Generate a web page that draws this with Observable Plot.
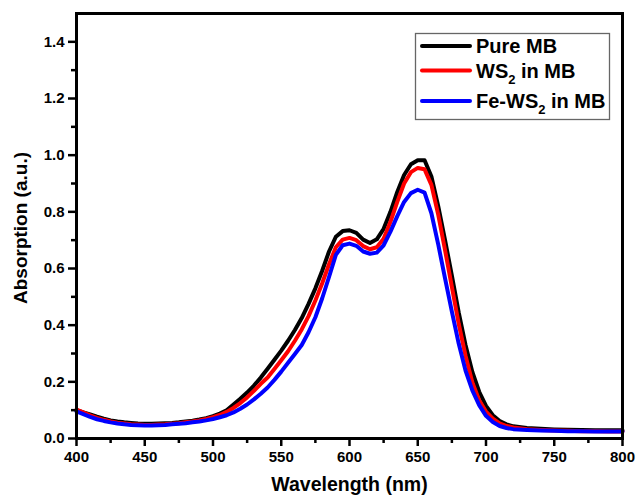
<!DOCTYPE html>
<html>
<head>
<meta charset="utf-8">
<script src="https://cdn.jsdelivr.net/npm/d3@7"></script>
<script src="https://cdn.jsdelivr.net/npm/@observablehq/plot@0.6"></script>
<style>
  html, body { margin: 0; padding: 0; background: #fff; }
</style>
</head>
<body>
<div id="chart"></div>
<script>
// Wavelength (nm)
const wavelength = [
  400,405,410,415,420,425,430,435,440,445,450,455,460,465,470,475,480,485,490,495,
  500,505,510,515,520,525,530,535,540,545,550,555,560,565,570,575,580,585,590,595,
  600,605,610,615,620,625,630,635,640,645,650,655,660,665,670,675,680,685,690,695,
  700,705,710,715,720,730,740,750,760,770,780,790,800
];
// Pure MB
const pureMB = [
  0.100,0.092,0.085,0.077,0.070,0.064,0.060,0.057,0.055,0.053,0.052,0.052,0.053,0.054,0.055,0.057,0.060,0.063,0.067,0.072,
  0.079,0.088,0.100,0.120,0.140,0.162,0.187,0.215,0.246,0.278,0.310,0.345,0.383,0.425,0.475,0.530,0.592,0.660,0.712,0.732,
  0.735,0.726,0.702,0.690,0.703,0.740,0.800,0.870,0.930,0.968,0.982,0.982,0.925,0.820,0.700,0.575,0.445,0.330,0.235,0.165,
  0.115,0.082,0.062,0.050,0.043,0.037,0.034,0.032,0.031,0.030,0.029,0.029,0.029
];
// WS2 in MB
const ws2MB = [
  0.102,0.092,0.082,0.073,0.066,0.060,0.056,0.053,0.050,0.049,0.048,0.048,0.049,0.050,0.052,0.054,0.057,0.060,0.064,0.069,
  0.075,0.083,0.094,0.108,0.125,0.145,0.168,0.193,0.215,0.245,0.276,0.308,0.345,0.385,0.432,0.487,0.548,0.615,0.675,0.702,
  0.708,0.700,0.679,0.668,0.675,0.705,0.765,0.835,0.900,0.940,0.955,0.950,0.895,0.790,0.665,0.535,0.405,0.292,0.198,0.135,
  0.095,0.070,0.053,0.044,0.039,0.033,0.030,0.028,0.027,0.026,0.026,0.025,0.025
];
// Fe-WS2 in MB
const feWs2MB = [
  0.096,0.086,0.076,0.068,0.062,0.057,0.053,0.050,0.048,0.047,0.046,0.046,0.047,0.048,0.050,0.052,0.054,0.057,0.060,0.064,
  0.069,0.075,0.082,0.092,0.105,0.120,0.138,0.158,0.180,0.207,0.236,0.267,0.298,0.330,0.375,0.428,0.495,0.570,0.648,0.682,
  0.688,0.680,0.660,0.652,0.656,0.682,0.730,0.785,0.835,0.866,0.878,0.868,0.795,0.685,0.565,0.448,0.335,0.240,0.170,0.118,
  0.080,0.058,0.044,0.037,0.033,0.030,0.028,0.027,0.026,0.026,0.025,0.025,0.025
];
const seriesNames = ["Pure MB", "WS2 in MB", "Fe-WS2 in MB"];
const seriesColors = ["#000000", "#ff0000", "#0000ff"];
const seriesValues = [pureMB, ws2MB, feWs2MB];

const xMajor = [400,450,500,550,600,650,700,750,800];
const xMinor = [425,475,525,575,625,675,725,775];
const yMajor = [0,0.2,0.4,0.6,0.8,1.0,1.2,1.4];
const yMinor = [0.1,0.3,0.5,0.7,0.9,1.1,1.3];

const xTitle = "Wavelength (nm)";
const yTitle = "Absorption (a.u.)";

const lineMarks = seriesValues.map((vals, i) =>
  Plot.line(wavelength.map((w, j) => ({w, v: vals[j]})), {
    x: "w", y: "v", stroke: seriesColors[i], strokeWidth: 4, strokeLinejoin: "round"
  })
);

const chart = Plot.plot({
  width: 636,
  height: 500,
  marginLeft: 76,
  marginRight: 14,
  marginTop: 13,
  marginBottom: 62,
  x: {domain: [400, 800]},
  y: {domain: [0, 1.5]},
  style: {
    fontFamily: "'Liberation Sans', Arial, sans-serif",
    fontWeight: "bold",
    fontSize: "15px",
    color: "black",
    background: "white"
  },
  marks: [
    ...lineMarks,
    Plot.axisX({ticks: xMajor, tickSize: 8, tickPadding: 5, strokeWidth: 2.5, label: null, tickFormat: d => String(d)}),
    Plot.axisX({ticks: xMinor, tickSize: 5, strokeWidth: 2.5, text: null, label: null}),
    Plot.axisY({ticks: yMajor, tickSize: 8, tickPadding: 4, strokeWidth: 2.5, label: null, tickFormat: d3.format(".1f")}),
    Plot.axisY({ticks: yMinor, tickSize: 5, strokeWidth: 2.5, text: null, label: null}),
    Plot.frame({stroke: "black", strokeWidth: 3}),
    Plot.text([xTitle], {frameAnchor: "bottom", dy: 52, fontSize: 19.5, fontWeight: "bold", fill: "black", textAnchor: "middle", text: d => d}),
    Plot.text([yTitle], {frameAnchor: "left", dx: -56, dy: 2, rotate: -90, fontSize: 19, fontWeight: "bold", fill: "black", textAnchor: "middle", text: d => d})
  ]
});

document.getElementById("chart").appendChild(chart);

// Legend
const svg = d3.select(chart);
const lg = svg.append("g")
  .style("font-family", "'Liberation Sans', Arial, sans-serif")
  .style("font-weight", "bold")
  .style("text-anchor", "start");
lg.append("rect").attr("x", 415.5).attr("y", 33.5).attr("width", 194).attr("height", 86)
  .attr("fill", "white").attr("stroke", "#666").attr("stroke-width", 1.3);
const rowsY = [46, 70.5, 101];
const parts = [["Pure MB"], ["WS", "2", " in MB"], ["Fe-WS", "2", " in MB"]];
rowsY.forEach((y, i) => {
  lg.append("line").attr("x1", 422).attr("x2", 470).attr("y1", y).attr("y2", y)
    .attr("stroke", seriesColors[i]).attr("stroke-width", 4).attr("stroke-linecap", "round");
  const t = lg.append("text").attr("x", 476).attr("y", y + 7)
    .style("font-size", "20px").style("text-anchor", "start").attr("fill", "black");
  const p = parts[i];
  t.append("tspan").text(p[0]);
  if (p.length > 1) {
    t.append("tspan").style("font-size", "13px").attr("dy", 6).text(p[1]);
    t.append("tspan").attr("dy", -6).text(p[2]);
  }
});
</script>
</body>
</html>
